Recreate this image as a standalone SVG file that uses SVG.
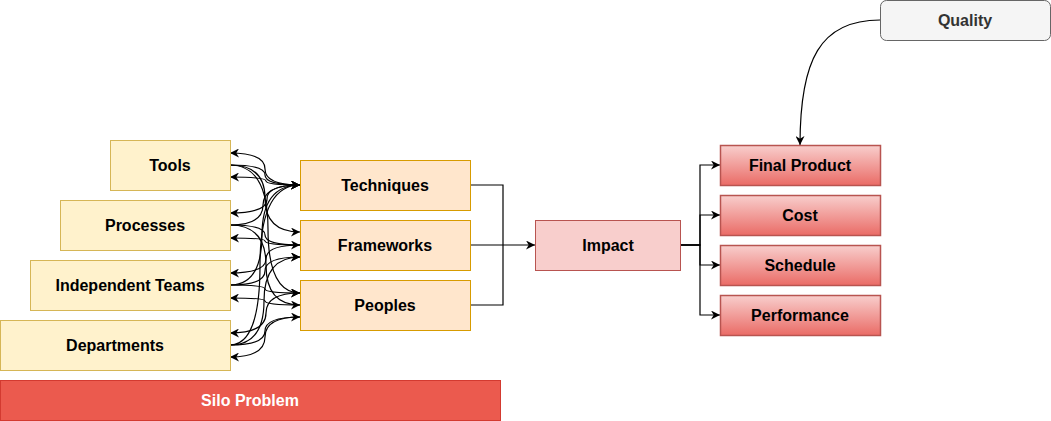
<svg xmlns="http://www.w3.org/2000/svg" width="1051" height="421" viewBox="0 0 1051 421">
<defs>
<marker id="ah" viewBox="0 0 10 10" refX="10" refY="5" markerWidth="9" markerHeight="9" markerUnits="userSpaceOnUse" orient="auto">
<path d="M0,0 L10,5 L0,10 L3,5 Z" fill="#000"/>
</marker>
<linearGradient id="rg" x1="0" y1="0" x2="0" y2="1">
<stop offset="0" stop-color="#f8cecc"/>
<stop offset="1" stop-color="#ea6b66"/>
</linearGradient>
<style>
text{font-family:"Liberation Sans",Arial,sans-serif;font-size:16px;font-weight:bold;text-anchor:middle;fill:#000}
.y{fill:#fff2cc;stroke:#d6b656;stroke-width:1}
.o{fill:#ffe6cc;stroke:#d79b00;stroke-width:1}
.r{fill:url(#rg);stroke:#b85450;stroke-width:1.5}
.c{fill:none;stroke:#000;stroke-width:1.2}
.a{marker-end:url(#ah)}
</style>
</defs>
<g id="connectors">
<!-- left to right -->
<path class="c a" d="M230,165 Q265,165 265,175 Q265,185 300,185"/>
<path class="c a" d="M230,165 Q265,165 265,198 Q265,232 300,232"/>
<path class="c a" d="M230,165 Q268,165 268,229 Q268,293 300,293"/>
<path class="c a" d="M230,225 Q263,225 263,205 Q263,185 300,185"/>
<path class="c a" d="M230,225 Q265,225 265,235 Q265,245 300,245"/>
<path class="c a" d="M230,225 Q266,225 266,265 Q266,305 300,305"/>
<path class="c a" d="M230,285 Q262,285 262,235 Q262,185 300,185"/>
<path class="c a" d="M230,285 Q265,285 265,271 Q265,257 300,257"/>
<path class="c a" d="M230,285 Q265,285 265,289 Q265,293 300,293"/>
<path class="c a" d="M230,345 Q260,345 260,265 Q260,185 300,185"/>
<path class="c a" d="M230,345 Q264,345 264,301 Q264,257 300,257"/>
<path class="c a" d="M230,345 Q265,345 265,331 Q265,317 300,317"/>
<!-- right to left -->
<path class="c a" d="M300,185 Q265,185 265,169 Q265,153 230,153"/>
<path class="c a" d="M300,185 Q266,185 266,181 Q266,177 230,177"/>
<path class="c a" d="M300,185 Q267,185 267,199 Q267,213 230,213"/>
<path class="c a" d="M300,245 Q265,245 265,241 Q265,238 230,238"/>
<path class="c a" d="M300,245 Q266,245 266,259 Q266,273 230,273"/>
<path class="c a" d="M300,305 Q265,305 265,301 Q265,298 230,298"/>
<path class="c a" d="M300,293 Q266,293 266,313 Q266,333 230,333"/>
<path class="c a" d="M300,317 Q265,317 265,337 Q265,357 230,357"/>
<!-- to impact -->
<path class="c" d="M470,185 H503 V245"/>
<path class="c" d="M470,305 H503 V245"/>
<path class="c a" d="M470,245 H535"/>
<!-- impact outputs -->
<path class="c a" d="M680,245 H700 V165 H720"/>
<path class="c a" d="M680,245 H700 V215 H720"/>
<path class="c a" d="M680,245 H700 V265 H720"/>
<path class="c a" d="M680,245 H700 V315 H720"/>
<!-- quality -->
<path class="c a" d="M880,20 C820,20 800,60 800,145"/>
</g>
<g id="tools"><rect class="y" x="110.5" y="140.5" width="120" height="50"/><text x="170" y="171">Tools</text></g>
<g id="processes"><rect class="y" x="60.5" y="200.5" width="170" height="50"/><text x="145" y="231">Processes</text></g>
<g id="independent-teams"><rect class="y" x="30.5" y="260.5" width="200" height="50"/><text x="130" y="291">Independent Teams</text></g>
<g id="departments"><rect class="y" x="0.5" y="320.5" width="230" height="50"/><text x="115" y="351">Departments</text></g>
<g id="techniques"><rect class="o" x="300.5" y="160.5" width="170" height="50"/><text x="385" y="191">Techniques</text></g>
<g id="frameworks"><rect class="o" x="300.5" y="220.5" width="170" height="50"/><text x="385" y="251">Frameworks</text></g>
<g id="peoples"><rect class="o" x="300.5" y="280.5" width="170" height="50"/><text x="385" y="311">Peoples</text></g>
<g id="impact"><rect x="535.5" y="220.5" width="145" height="50" fill="#f8cecc" stroke="#b85450"/><text x="608" y="251">Impact</text></g>
<g id="final-product"><rect class="r" x="720.5" y="145.5" width="160" height="40"/><text x="800" y="171">Final Product</text></g>
<g id="cost"><rect class="r" x="720.5" y="195.5" width="160" height="40"/><text x="800" y="221">Cost</text></g>
<g id="schedule"><rect class="r" x="720.5" y="245.5" width="160" height="40"/><text x="800" y="271">Schedule</text></g>
<g id="performance"><rect class="r" x="720.5" y="295.5" width="160" height="40"/><text x="800" y="321">Performance</text></g>
<g id="quality"><rect x="880.5" y="0.5" width="170" height="40" rx="6" fill="#f5f5f5" stroke="#666666"/><text x="965" y="26" style="fill:#333333">Quality</text></g>
<g id="silo-problem"><rect x="0.5" y="380.5" width="500" height="40" fill="#eb5a4e" stroke="#d33a30"/><text x="250" y="406" style="fill:#ffffff">Silo Problem</text></g>
</svg>
